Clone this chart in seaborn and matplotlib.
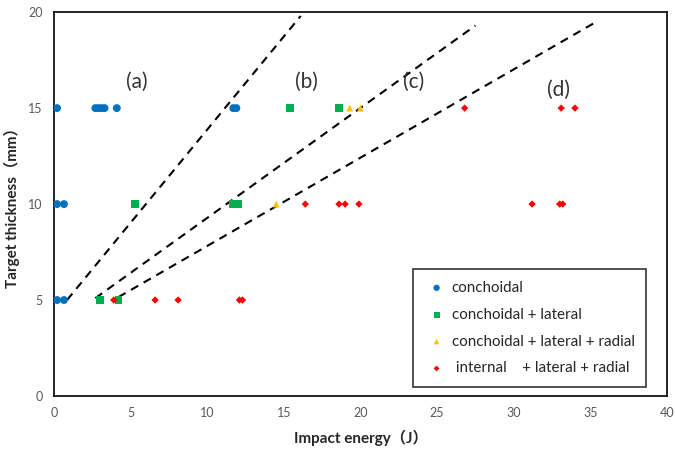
import pandas as pd
import matplotlib
matplotlib.use("Agg")
import matplotlib.pyplot as plt
import seaborn as sns

# Scatter data: impact energy (J) vs target thickness (mm), per fracture mode
conch_e = [0.2, 2.7, 2.9, 3.1, 3.3, 4.1, 11.7, 11.9, 0.2, 0.65, 0.2, 0.65]
conch_t = [15, 15, 15, 15, 15, 15, 15, 15, 10, 10, 5, 5]
lat_e = [15.4, 18.6, 5.3, 11.7, 12.0, 3.0, 4.2]
lat_t = [15, 15, 10, 10, 10, 5, 5]
rad_e = [19.3, 20.0, 14.5]
rad_t = [15, 15, 10]
int_e = [3.9, 6.6, 8.1, 12.1, 12.3, 16.4, 18.6, 19.0, 19.9, 31.2, 33.0, 33.2, 26.8, 33.1, 34.0]
int_t = [5, 5, 5, 5, 5, 10, 10, 10, 10, 10, 10, 10, 15, 15, 15]

modes = ["conchoidal", "conchoidal + lateral", "conchoidal + lateral + radial",
         " internal    + lateral + radial"]

# Boundary lines between regions (a)-(d)
line_a_e = [0.85, 16.1]
line_a_t = [5.0, 19.8]
line_b_e = [2.7, 27.5]
line_b_t = [5.1, 19.3]
line_c_e = [4.2, 35.4]
line_c_t = [5.15, 19.5]

region_labels = ["(a)", "(b)", "(c)", "(d)"]
region_e = [5.4, 16.5, 23.5, 32.9]
region_t = [16.35, 16.35, 16.35, 15.95]

df = pd.concat([
    pd.DataFrame({"energy": conch_e, "thickness": conch_t, "mode": modes[0]}),
    pd.DataFrame({"energy": lat_e, "thickness": lat_t, "mode": modes[1]}),
    pd.DataFrame({"energy": rad_e, "thickness": rad_t, "mode": modes[2]}),
    pd.DataFrame({"energy": int_e, "thickness": int_t, "mode": modes[3]}),
])

sns.set_style("white")
plt.rcParams["font.family"] = ["Lato", "Noto Sans CJK SC", "DejaVu Sans"]

palette = dict(zip(modes, ["#0070C0", "#00B050", "#FFC000", "#FF0000"]))
markers = dict(zip(modes, ["o", "s", "^", "D"]))
sizes = dict(zip(modes, [32, 30, 24, 14]))

fig, ax = plt.subplots(figsize=(6.75, 4.5), dpi=100)
for m in modes:
    sub = df[df["mode"] == m]
    sns.scatterplot(data=sub, x="energy", y="thickness", color=palette[m],
                    marker=markers[m], s=sizes[m], edgecolor="none",
                    label=m, ax=ax, zorder=3)

for xe, yt in [(line_a_e, line_a_t), (line_b_e, line_b_t), (line_c_e, line_c_t)]:
    ax.plot(xe, yt, color="black", linestyle=(0, (4, 3)), linewidth=1.5, zorder=2)

for lab, xe, yt in zip(region_labels, region_e, region_t):
    ax.text(xe, yt, lab, fontsize=15, ha="center", va="center", color="#333333")

ax.set_xlim(0, 40)
ax.set_ylim(0, 20)
ax.set_xticks(range(0, 41, 5))
ax.set_yticks(range(0, 21, 5))
ax.tick_params(axis="both", length=0, labelsize=9, labelcolor="#595959", pad=8)
for sp in ax.spines.values():
    sp.set_color("black")
    sp.set_linewidth(1.2)

ax.set_xlabel("Impact energy（J）", fontsize=11, fontweight="bold", labelpad=8)
ax.set_ylabel("Target thickness（mm）", fontsize=11, fontweight="bold", labelpad=6)

leg = ax.legend(loc="lower right", bbox_to_anchor=(0.966, 0.024), fontsize=10.9,
                frameon=True, fancybox=False, edgecolor="black",
                handletextpad=0.2, labelspacing=0.85, borderpad=0.75,
                handlelength=1.6, markerscale=0.8, borderaxespad=0)
leg.get_frame().set_linewidth(1.2)

plt.subplots_adjust(left=0.08, right=0.988, top=0.973, bottom=0.12)
fig.savefig("out.png", dpi=100)
plt.close()
